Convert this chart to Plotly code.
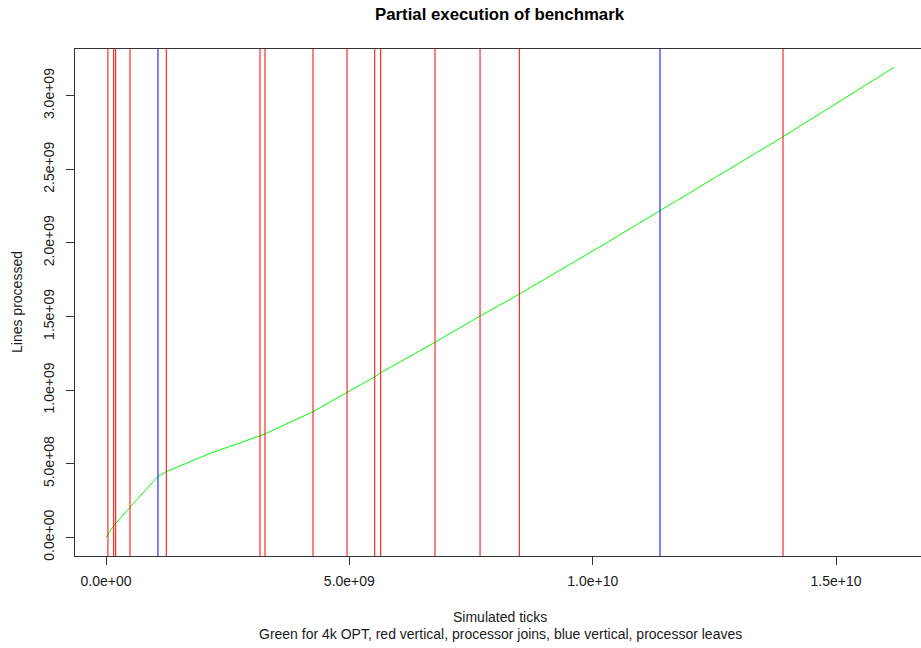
import plotly.graph_objects as go

# Green curve: 4k OPT (simulated ticks vs lines processed)
ticks = [0.0, 0.17e9, 1.062e9, 1.227e9, 2.1e9, 3.164e9, 3.267e9, 4.247e9, 4.946e9,
         5.527e9, 5.644e9, 6.760e9, 7.685e9, 8.486e9, 10.288e9, 11.383e9, 13.910e9, 16.197e9]
lines_processed = [0.0, 0.084e9, 0.412e9, 0.444e9, 0.565e9, 0.688e9, 0.702e9, 0.853e9, 0.982e9,
                   1.091e9, 1.118e9, 1.325e9, 1.503e9, 1.651e9, 2.001e9, 2.217e9, 2.721e9, 3.193e9]

# Processor joins (red vertical) and leaves (blue vertical)
joins = [0.04e9, 0.158e9, 0.199e9, 0.493e9, 1.239e9, 3.164e9, 3.267e9, 4.253e9, 4.952e9,
         5.521e9, 5.644e9, 6.760e9, 7.685e9, 8.492e9, 13.910e9]
leaves = [1.068e9, 11.383e9]

x_tickvals = [0, 5e9, 1e10, 1.5e10]
x_ticktext = ["0.0e+00", "5.0e+09", "1.0e+10", "1.5e+10"]
y_tickvals = [0, 0.5e9, 1.0e9, 1.5e9, 2.0e9, 2.5e9, 3.0e9]
y_ticktext = ["0.0e+00", "5.0e+08", "1.0e+09", "1.5e+09", "2.0e+09", "2.5e+09", "3.0e+09"]

W, H = 921, 648
ML, MR, MT, MB = 75, 0, 49, 92
PW, PH = W - ML - MR, H - MT - MB
FONT = "Liberation Sans, Arial, sans-serif"
TXT = "#1a1a1a"

def px_x(px):
    return (px - ML) / PW

def px_y(py):
    return (H - MB - py) / PH

fig = go.Figure()
fig.add_trace(go.Scatter(x=ticks, y=lines_processed, mode="lines",
                         line=dict(color="#00ff00", width=1), hoverinfo="skip", showlegend=False))

for v in joins:
    fig.add_vline(x=v, line=dict(color="#ff0000", width=1), layer="above")
for v in leaves:
    fig.add_vline(x=v, line=dict(color="#0000ff", width=1), layer="above")

fig.update_layout(
    width=W, height=H,
    margin=dict(l=ML, r=MR, t=MT, b=MB, pad=0),
    paper_bgcolor="white", plot_bgcolor="white",
    font=dict(family=FONT, size=14, color=TXT),
    showlegend=False,
    xaxis=dict(range=[-0.637e9, 16.745e9], tickvals=x_tickvals, ticktext=x_ticktext,
               showgrid=False, zeroline=False, showline=True, mirror=True,
               linecolor="#333", linewidth=1, ticks="outside", ticklen=8, tickcolor="#333",
               ticklabelstandoff=4, tickfont=dict(size=14, color=TXT, family=FONT)),
    yaxis=dict(range=[-0.127e9, 3.317e9], tickvals=y_tickvals, ticktext=y_ticktext,
               showgrid=False, zeroline=False, showline=True, mirror=True,
               linecolor="#333", linewidth=1, ticks="outside", ticklen=8, tickcolor="#333",
               tickangle=-90, ticklabelstandoff=6, tickfont=dict(size=14, color=TXT, family=FONT)),
    annotations=[
        dict(text="<b>Partial execution of benchmark</b>", x=px_x(500), y=px_y(14),
             xref="paper", yref="paper", showarrow=False, xanchor="center", yanchor="middle",
             font=dict(size=16.8, color="#000", family=FONT)),
        dict(text="Simulated ticks", x=px_x(500), y=px_y(617), xref="paper", yref="paper",
             showarrow=False, xanchor="center", yanchor="middle", font=dict(size=14, color=TXT, family=FONT)),
        dict(text="Green for 4k OPT, red vertical, processor joins, blue vertical, processor leaves",
             x=px_x(500), y=px_y(634), xref="paper", yref="paper", showarrow=False,
             xanchor="center", yanchor="middle", font=dict(size=14, color=TXT, family=FONT)),
        dict(text="Lines processed", x=px_x(17), y=px_y(302), xref="paper", yref="paper",
             showarrow=False, xanchor="center", yanchor="middle", textangle=-90,
             font=dict(size=14, color=TXT, family=FONT)),
    ],
)

fig.write_html("out.html")
